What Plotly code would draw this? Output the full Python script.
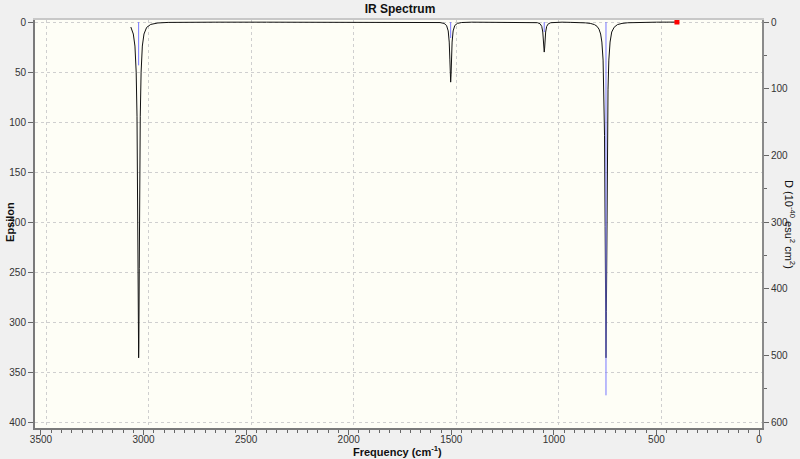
import plotly.graph_objects as go

# ---- data ----
curve_freq = [3062, 3050, 3042, 3036, 3032, 3029, 3027, 3025, 3024, 3023, 3021, 3019, 3016,
              3012, 3006, 2998, 2985, 2965, 2930, 2880, 2800, 2650, 2400, 2100, 1850, 1700,
              1620, 1580, 1555, 1535, 1523, 1515, 1510, 1507, 1505, 1503, 1501, 1499, 1496,
              1491, 1483, 1470, 1450, 1400, 1330, 1250, 1180, 1130, 1100, 1080, 1067, 1059,
              1054, 1051, 1049, 1047, 1045, 1043, 1040, 1035, 1027, 1015, 995, 960, 920, 880,
              845, 820, 802, 790, 780, 772, 766, 760, 756, 753, 750, 748, 746, 744, 742, 739,
              736, 732, 726, 718, 706, 690, 668, 640, 600, 550, 500, 450, 400]
curve_eps = [5, 12, 24, 50, 94, 167, 246, 322, 335, 322, 246, 167, 94,
             50, 24, 12, 5.4, 2.4, 0.95, 0.4, 0.2, 0.15, 0.15, 0.2, 0.3, 0.3,
             0.6, 0.4, 0.55, 1.4, 3.5, 8.9, 20, 37, 52, 60, 52, 37, 20,
             8.9, 3.5, 1.35, 0.53, 0.15, 0.1, 0.1, 0.15, 0.2, 0.3, 0.67, 1.8, 4.4,
             10, 18, 26, 30, 26, 18, 10, 4.4, 1.8, 0.7, 0.3, 0.15, 0.35, 0.5,
             0.85, 1.5, 2.6, 4.2, 7.1, 12, 20, 38, 67, 113, 204, 289, 335, 289, 204, 113,
             67, 38, 20, 10, 5.2, 2.6, 1.4, 0.75, 0.4, 0.2, 0.15, 0.1, 0.1]

stick_freq = [3024, 1503, 1047, 746]
stick_D = [65, 24, 15, 560]

marker_freq = [400]
marker_eps = [0]

x_ticks = [3500, 3000, 2500, 2000, 1500, 1000, 500, 0]
eps_ticks = [0, 50, 100, 150, 200, 250, 300, 350, 400]
d_ticks = [0, 100, 200, 300, 400, 500, 600]

# ---- build stick segments ----
sx, sy = [], []
for f, d in zip(stick_freq, stick_D):
    sx += [f, f, None]
    sy += [0, d, None]

fig = go.Figure()
fig.add_trace(go.Scatter(x=sx, y=sy, mode="lines", yaxis="y2",
                         line=dict(color="rgb(120,120,255)", width=1),
                         hoverinfo="skip", showlegend=False))
fig.add_trace(go.Scatter(x=curve_freq, y=curve_eps, mode="lines",
                         line=dict(color="#111111", width=1),
                         showlegend=False))
fig.add_trace(go.Scatter(x=marker_freq, y=marker_eps, mode="markers",
                         marker=dict(color="red", size=5, symbol="square"),
                         showlegend=False))
# invisible trace on gridline overlay axis
fig.add_trace(go.Scatter(x=[1000], y=[0], xaxis="x2", mode="markers",
                         marker=dict(opacity=0), hoverinfo="skip", showlegend=False))

tickfont = dict(family="Liberation Sans, Arial, sans-serif", size=10, color="#333333")
grid_color = "#cfcfcf"

fig.update_layout(
    width=800, height=459,
    margin=dict(l=35, r=38, t=20, b=31),
    paper_bgcolor="#f0f0f0",
    plot_bgcolor="#fefef6",
    title=dict(text="<b>IR Spectrum</b>", x=0.5, xref="container", xanchor="center",
               y=1 - 9 / 459, yref="container", yanchor="middle",
               font=dict(family="Liberation Sans, Arial, sans-serif", size=12, color="#111")),
    xaxis=dict(range=[3529.2, -14.6], tickvals=x_ticks, ticktext=[str(v) for v in x_ticks],
               ticks="outside", ticklen=5, tickcolor="#666", tickfont=tickfont,
               ticklabelstandoff=-4,
               showgrid=False, zeroline=False, automargin=False,
               showline=True, linecolor="#7a7a7a", linewidth=2,
               minor=dict(dtick=50, ticks="outside", ticklen=3, tickcolor="#666", showgrid=False)),
    xaxis2=dict(range=[3553.6, 9.8], overlaying="x", side="top", tickvals=x_ticks,
                showticklabels=False, ticks="", showgrid=True, gridcolor=grid_color,
                griddash="dot", gridwidth=1, zeroline=False, automargin=False,
                showline=True, linecolor="#c8c8c8", linewidth=2),
    yaxis=dict(range=[405, -2], tickvals=eps_ticks, ticktext=[str(v) for v in eps_ticks],
               ticks="outside", ticklen=5, tickcolor="#666", tickfont=tickfont,
               showgrid=True, gridcolor=grid_color, griddash="dot", gridwidth=1,
               zeroline=False, showline=True, linecolor="#7a7a7a", linewidth=2, automargin=False),
    yaxis2=dict(range=[609, -3], overlaying="y", side="right", tickvals=d_ticks,
                ticktext=[str(v) for v in d_ticks],
                ticks="outside", ticklen=5, tickcolor="#666", tickfont=tickfont,
                showgrid=False, zeroline=False, showline=True, linecolor="#8a8a8a", linewidth=2,
                automargin=False,
                minor=dict(dtick=50, ticks="outside", ticklen=3, tickcolor="#666", showgrid=False)),
    annotations=[
        dict(text="<b>Frequency (cm<sup>-1</sup>)</b>", xref="paper", yref="paper",
             x=0.498, y=0, yanchor="middle", yshift=-23, showarrow=False,
             font=dict(family="Liberation Sans, Arial, sans-serif", size=11, color="#111")),
        dict(text="<b>Epsilon</b>", xref="paper", yref="paper", x=0, xshift=-25,
             y=0.505, xanchor="center", yanchor="middle", textangle=-90, showarrow=False,
             font=dict(family="Liberation Sans, Arial, sans-serif", size=11, color="#111")),
        dict(text="D (10<sup>-40</sup> esu<sup>2</sup> cm<sup>2</sup>)", xref="paper", yref="paper",
             x=1, xshift=28, y=0.5, xanchor="center", yanchor="middle", textangle=90,
             showarrow=False,
             font=dict(family="Liberation Sans, Arial, sans-serif", size=11, color="#111")),
    ],
)

fig.write_html("out.html", config={"displayModeBar": False},
               post_script="document.body.style.margin='0';document.body.style.background='#f0f0f0';")
